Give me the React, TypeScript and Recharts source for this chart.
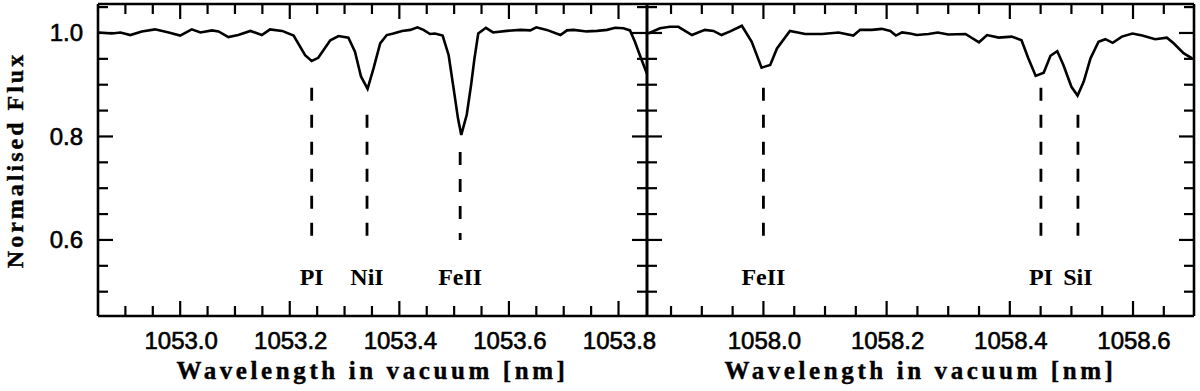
import React from 'react';
import { LineChart, Line, XAxis, YAxis, ReferenceLine, ReferenceDot } from 'recharts';

// spectrum, left window (wavelength nm / normalised flux)
const leftWave = [
  1052.851, 1052.875, 1052.891, 1052.909, 1052.93, 1052.954, 1052.979, 1053.0, 1053.021, 1053.037,
  1053.058, 1053.07, 1053.088, 1053.106, 1053.128, 1053.149, 1053.164, 1053.186, 1053.207, 1053.228,
  1053.24, 1053.252, 1053.274, 1053.289, 1053.307, 1053.319, 1053.33, 1053.342, 1053.353, 1053.365,
  1053.377, 1053.389, 1053.405, 1053.42, 1053.433, 1053.444, 1053.456, 1053.465, 1053.479, 1053.49,
  1053.499, 1053.507, 1053.513, 1053.523, 1053.531, 1053.537, 1053.544, 1053.558, 1053.571, 1053.596,
  1053.621, 1053.639, 1053.65, 1053.669, 1053.694, 1053.706, 1053.718, 1053.742, 1053.761, 1053.779,
  1053.794, 1053.809, 1053.821, 1053.83, 1053.84, 1053.852,
];
const leftFlux = [
  1.001, 0.999, 1.001, 0.996, 1.003, 1.007, 1.001, 0.995, 1.007, 1.001,
  1.005, 1.003, 0.992, 0.996, 1.004, 0.996, 1.007, 1.004, 0.995, 0.957,
  0.946, 0.952, 0.986, 0.994, 0.991, 0.964, 0.916, 0.892, 0.932, 0.98,
  0.996, 0.999, 1.004, 1.006, 1.011, 1.006, 0.998, 0.999, 0.995, 0.957,
  0.893, 0.835, 0.803, 0.842, 0.9, 0.95, 0.999, 1.01, 1.001, 1.004,
  1.006, 1.005, 1.011, 1.006, 0.996, 1.005, 1.006, 1.003, 1.004, 1.006,
  1.01, 1.009, 1.005, 0.983, 0.954, 0.921,
];

// spectrum, right window
const rightWave = [
  1057.813, 1057.832, 1057.848, 1057.862, 1057.884, 1057.905, 1057.919, 1057.932, 1057.946, 1057.965,
  1057.981, 1057.997, 1058.011, 1058.022, 1058.043, 1058.068, 1058.095, 1058.122, 1058.146, 1058.157,
  1058.176, 1058.192, 1058.206, 1058.215, 1058.225, 1058.238, 1058.249, 1058.268, 1058.283, 1058.3,
  1058.328, 1058.35, 1058.363, 1058.382, 1058.403, 1058.419, 1058.43, 1058.442, 1058.455, 1058.466,
  1058.477, 1058.487, 1058.5, 1058.51, 1058.52, 1058.531, 1058.544, 1058.555, 1058.567, 1058.582,
  1058.599, 1058.615, 1058.636, 1058.655, 1058.666, 1058.682, 1058.696,
];
const rightFlux = [
  0.999, 1.009, 1.012, 1.012, 0.996, 1.006, 1.004, 0.996, 1.003, 1.014,
  0.983, 0.933, 0.938, 0.97, 1.004, 0.998, 0.998, 1.001, 0.995, 1.006,
  1.006, 1.008, 1.004, 0.995, 1.001, 0.999, 0.996, 0.998, 1.001, 0.997,
  0.998, 0.982, 0.996, 0.991, 0.993, 0.986, 0.951, 0.917, 0.923, 0.956,
  0.965, 0.938, 0.896, 0.879, 0.906, 0.951, 0.983, 0.988, 0.981, 0.993,
  0.999, 0.995, 0.988, 0.991, 0.98, 0.961, 0.951,
];

// axis ticks
const leftTicks = [
  1052.9, 1052.95, 1053.0, 1053.05, 1053.1, 1053.15, 1053.2, 1053.25, 1053.3, 1053.35,
  1053.4, 1053.45, 1053.5, 1053.55, 1053.6, 1053.65, 1053.7, 1053.75, 1053.8,
];
const leftMajor = [1053.0, 1053.2, 1053.4, 1053.6, 1053.8];
const rightTicks = [
  1057.85, 1057.9, 1057.95, 1058.0, 1058.05, 1058.1, 1058.15, 1058.2, 1058.25, 1058.3,
  1058.35, 1058.4, 1058.45, 1058.5, 1058.55, 1058.6, 1058.65,
];
const rightMajor = [1058.0, 1058.2, 1058.4, 1058.6];
const fluxTicks = [0.5, 0.55, 0.6, 0.65, 0.7, 0.75, 0.8, 0.85, 0.9, 0.95, 1.0, 1.05];
const fluxMajor = [0.6, 0.8, 1.0];

// line identifications
const leftIons = ['PI', 'NiI', 'FeII'];
const leftIonWave = [1053.24, 1053.341, 1053.511];
const leftIonTop = [0.894, 0.842, 0.77];
const rightIons = ['FeII', 'PI', 'SiI'];
const rightIonWave = [1058.0, 1058.4505, 1058.5106];
const rightIonTop = [0.894, 0.894, 0.842];
const ionBottom = 0.6;
const ionLabelFlux = 0.53;

const fluxDomain: [number, number] = [0.453, 1.056];
const leftDomain: [number, number] = [1052.85, 1053.852];
const rightDomain: [number, number] = [1057.811, 1058.699];

const leftData = leftWave.map((w, i) => ({ wave: w, flux: leftFlux[i] }));
const rightData = rightWave.map((w, i) => ({ wave: w, flux: rightFlux[i] }));

const SANS = "'Liberation Sans', Arial, sans-serif";
const SERIF = "'Liberation Serif', 'Times New Roman', serif";

const has = (list: number[], v: number) => list.some((t) => Math.abs(t - v) < 1e-6);

type Side = 'bottom' | 'top' | 'left' | 'right';

// draws inward ticks (and labels where wanted) starting on the axis line
const makeTick = (side: Side, major: number[], labels: boolean) => (props: any) => {
  const { x, y, payload } = props;
  const v = payload.value as number;
  const big = has(major, v);
  const len = big ? 15 : 10;
  let x2 = x;
  let y2 = y;
  if (side === 'bottom') y2 = y - len;
  if (side === 'top') y2 = y + len;
  if (side === 'left') x2 = x + len;
  if (side === 'right') x2 = x - len;
  let label = null;
  if (labels && big) {
    const txt = { fontFamily: SANS, fontSize: 24, fill: '#000', stroke: '#000', strokeWidth: 0.6 };
    label =
      side === 'bottom' ? (
        <text x={x + 1} y={y + 33} textAnchor="middle" {...txt}>
          {v.toFixed(1)}
        </text>
      ) : (
        <text x={x - 15} y={y + 8.5} textAnchor="end" {...txt}>
          {v.toFixed(1)}
        </text>
      );
  }
  return (
    <g>
      <line x1={x} y1={y} x2={x2} y2={y2} stroke="#000" strokeWidth={2.2} />
      {label}
    </g>
  );
};

const axisLine = { stroke: '#000', strokeWidth: 2.6 };

const xTitle = {
  value: 'Wavelength in vacuum [nm]',
  position: 'insideBottom' as const,
  offset: 12,
  fontFamily: SERIF,
  fontWeight: 'bold',
  fontSize: 25,
  letterSpacing: 3.6,
  fill: '#000',
  stroke: '#000',
  strokeWidth: 0.4,
};

const yTitle = {
  content: (p: any) => {
    const vb = p.viewBox || { x: 0, y: 4, width: 98, height: 312 };
    const cy = vb.y + vb.height / 2;
    return (
      <text
        transform={`translate(${vb.x + 23}, ${cy}) rotate(-90)`}
        textAnchor="middle"
        fontFamily={SERIF}
        fontWeight="bold"
        fontSize={24}
        letterSpacing={3}
        fill="#000"
        stroke="#000"
        strokeWidth={0.4}
      >
        Normalised Flux
      </text>
    );
  },
};

type Margin = { top: number; right: number; bottom: number; left: number };

function Panel({
  data,
  domain,
  ticks,
  major,
  ions,
  ionWave,
  ionTop,
  margin,
  yLabels,
}: {
  data: { wave: number; flux: number }[];
  domain: [number, number];
  ticks: number[];
  major: number[];
  ions: string[];
  ionWave: number[];
  ionTop: number[];
  margin: Margin;
  yLabels: boolean;
}) {
  return (
    <LineChart width={1200} height={391} data={data} margin={margin}>
      <XAxis
        dataKey="wave"
        type="number"
        domain={domain}
        allowDataOverflow
        ticks={ticks}
        interval={0}
        tickSize={0}
        tickMargin={0}
        height={75}
        axisLine={axisLine}
        tickLine={false}
        tick={makeTick('bottom', major, true)}
        label={xTitle}
      />
      <XAxis
        xAxisId="top"
        orientation="top"
        dataKey="wave"
        type="number"
        domain={domain}
        allowDataOverflow
        ticks={ticks}
        interval={0}
        tickSize={0}
        tickMargin={0}
        height={1}
        axisLine={axisLine}
        tickLine={false}
        tick={makeTick('top', major, false)}
      />
      <YAxis
        type="number"
        domain={fluxDomain}
        allowDataOverflow
        ticks={fluxTicks}
        interval={0}
        tickSize={0}
        tickMargin={0}
        width={yLabels ? 98 : 1}
        axisLine={axisLine}
        tickLine={false}
        tick={makeTick('left', fluxMajor, yLabels)}
        label={yLabels ? yTitle : undefined}
      />
      <YAxis
        yAxisId="right"
        orientation="right"
        type="number"
        domain={fluxDomain}
        allowDataOverflow
        ticks={fluxTicks}
        interval={0}
        tickSize={0}
        tickMargin={0}
        width={1}
        axisLine={axisLine}
        tickLine={false}
        tick={makeTick('right', fluxMajor, false)}
      />
      {ions.map((name, i) => (
        <ReferenceLine
          key={'l' + name + i}
          segment={[
            { x: ionWave[i], y: ionTop[i] },
            { x: ionWave[i], y: ionBottom },
          ]}
          stroke="#000"
          strokeWidth={2.8}
          strokeDasharray="13 14"
        />
      ))}
      {ions.map((name, i) => (
        <ReferenceDot
          key={'d' + name + i}
          x={ionWave[i]}
          y={ionLabelFlux}
          r={0}
          fill="none"
          stroke="none"
          label={{
            value: name,
            position: 'center',
            fontFamily: SERIF,
            fontWeight: 'bold',
            fontSize: 24,
            fill: '#000',
          }}
        />
      ))}
      <Line
        type="linear"
        dataKey="flux"
        stroke="#000"
        strokeWidth={2.6}
        dot={false}
        isAnimationActive={false}
      />
      {/* hidden series so the mirrored top/right axes get drawn */}
      <Line
        xAxisId="top"
        yAxisId="right"
        dataKey="flux"
        stroke="none"
        dot={false}
        activeDot={false}
        legendType="none"
        isAnimationActive={false}
      />
    </LineChart>
  );
}

export default function App() {
  return (
    <div style={{ position: 'absolute', left: 0, top: 0, width: 1200, height: 391, background: '#fff' }}>
      <div style={{ position: 'absolute', left: 0, top: 0 }}>
        <Panel
          data={leftData}
          domain={leftDomain}
          ticks={leftTicks}
          major={leftMajor}
          ions={leftIons}
          ionWave={leftIonWave}
          ionTop={leftIonTop}
          margin={{ top: 3, right: 552, bottom: 0, left: 0 }}
          yLabels
        />
      </div>
      <div style={{ position: 'absolute', left: 0, top: 0 }}>
        <Panel
          data={rightData}
          domain={rightDomain}
          ticks={rightTicks}
          major={rightMajor}
          ions={rightIons}
          ionWave={rightIonWave}
          ionTop={rightIonTop}
          margin={{ top: 3, right: 5, bottom: 0, left: 646 }}
          yLabels={false}
        />
      </div>
    </div>
  );
}
